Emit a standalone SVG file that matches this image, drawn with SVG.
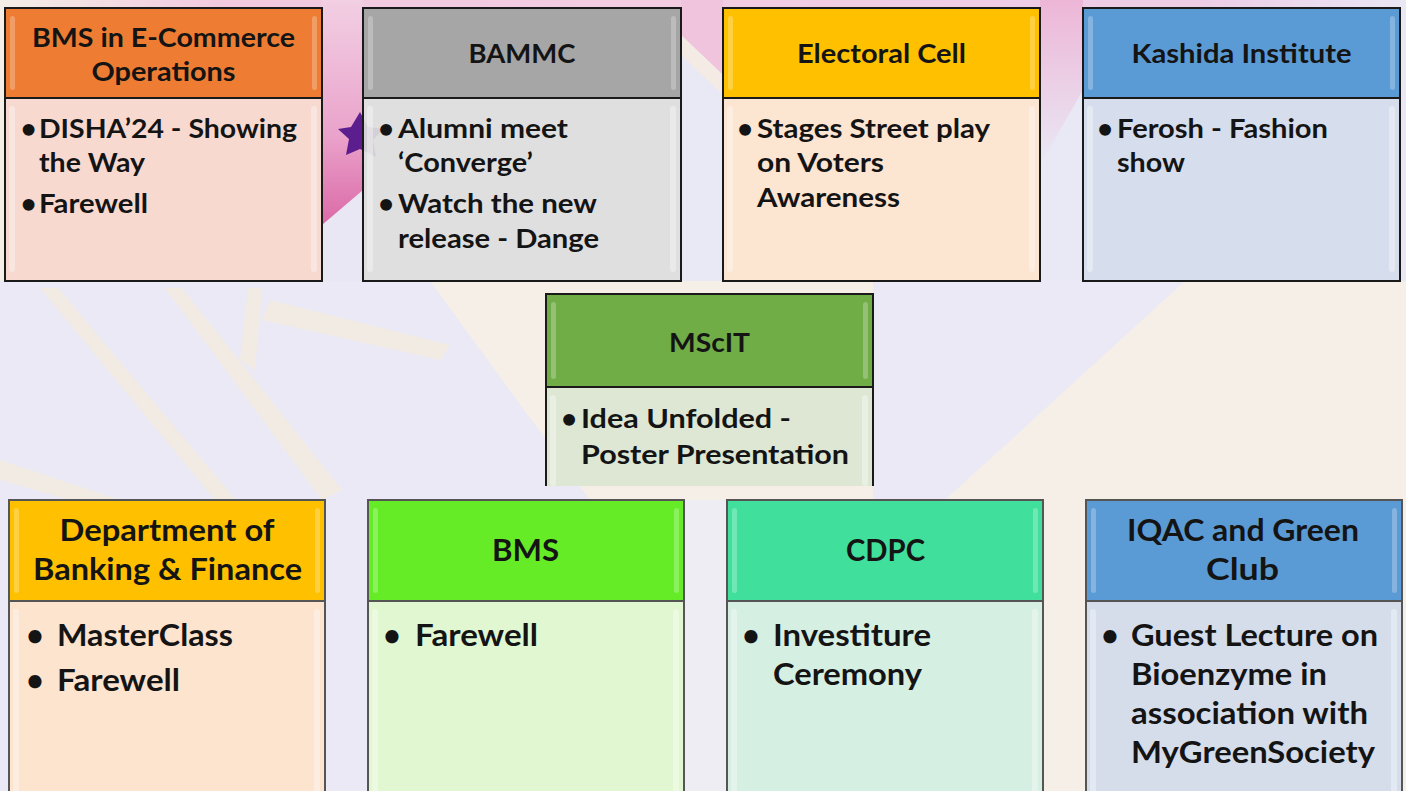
<svg xmlns="http://www.w3.org/2000/svg" width="1406" height="791" viewBox="0 0 1406 791">
<style>
text{font-family:Lato,"Liberation Sans",sans-serif;font-weight:700;fill:#141414}
.t{font-size:27px}
.b{font-size:30px}
.h{text-anchor:middle}
.bl{text-anchor:middle}
.frame{fill:none;stroke:#1a1a1a;stroke-width:2}
.frame2{fill:none;stroke:#555;stroke-width:2}
.hl{fill:#fff;opacity:.25}
.hb{fill:#fff;opacity:.35}
</style>
<defs>
<linearGradient id="pinkGap" x1="0" y1="0" x2="0" y2="1">
<stop offset="0" stop-color="#F2CFE3"/>
<stop offset="0.6" stop-color="#EAA3CB"/>
<stop offset="1" stop-color="#DB69A7"/>
</linearGradient>
<linearGradient id="pinkTop" x1="0" y1="0" x2="1" y2="0">
<stop offset="0" stop-color="#F4EEE6"/>
<stop offset="0.16" stop-color="#F2C9DF"/>
<stop offset="0.5" stop-color="#F2CDE2"/>
<stop offset="0.85" stop-color="#EDCCE6"/>
<stop offset="1" stop-color="#E9E6F4"/>
</linearGradient>
<linearGradient id="pinkFade" x1="0" y1="0" x2="0" y2="1">
<stop offset="0" stop-color="#EDB6D6"/>
<stop offset="1" stop-color="#E9E8F5"/>
</linearGradient>
</defs>

<!-- background -->
<g id="background">
<rect width="1406" height="791" fill="#F6EFE7"/>
<polygon points="0,281 430,281 590,500 590,791 0,791" fill="#EAE9F5"/>
<polygon points="590,500 760,500 760,791 590,791" fill="#EEEDF4"/>
<polygon points="873,281 1185,281 945,500 873,500" fill="#EAE9F5"/>
<polygon points="40,288 58,288 236,500 215,500" fill="#F2EBE3"/>
<polygon points="165,288 182,288 342,490 322,500" fill="#F2EBE3"/>
<polygon points="0,460 150,510 140,520 0,480" fill="#F2EBE3"/>
<polygon points="248,288 262,288 255,370 240,360" fill="#F2EBE3"/>
<polygon points="270,300 450,345 440,360 262,320" fill="#F2EBE3"/>
<rect x="0" y="0" width="1406" height="9" fill="url(#pinkTop)"/>
<rect x="1400" y="0" width="6" height="281" fill="#E9E7F4"/>
<rect x="322" y="0" width="41" height="281" fill="#E9E7F3"/>
<polygon points="322,0 363,0 363,190 322,225" fill="url(#pinkGap)"/>
<rect x="681" y="0" width="42" height="281" fill="#E9E8F5"/>
<polygon points="681,0 723,0 723,75 681,35" fill="#F0C4DD"/>
<polygon points="681,35 723,75 723,95 681,55" fill="#F4ECE4"/>
<rect x="1040" y="0" width="43" height="281" fill="#E9E8F5"/>
<polygon points="1040,0 1083,0 1083,90 1040,165" fill="url(#pinkFade)"/>
<polygon points="338,129 351,127 360,112 368,127 384,129 373,140 376,157 360,149 346,155 349,139" fill="#5C1E8E"/>
</g>

<g id="connectors"></g>

<!-- top row -->
<g id="node-bms-ecommerce">
<rect x="5" y="8" width="317" height="90" fill="#EE7D33"/>
<rect x="5" y="98" width="317" height="183" fill="#F8D9CF"/>
<rect class="hl" x="10" y="16" width="5" height="74" rx="2.5"/>
<rect class="hl" x="312" y="16" width="5" height="74" rx="2.5"/>
<rect class="hb" x="9" y="106" width="6" height="166" rx="3"/>
<rect class="hb" x="311" y="106" width="6" height="166" rx="3"/>
<rect class="frame" x="5" y="8" width="317" height="273"/>
<line class="frame" x1="5" y1="98" x2="322" y2="98"/>
<text class="t h" x="163.5" y="47" textLength="263" lengthAdjust="spacingAndGlyphs">BMS in E-Commerce</text>
<text class="t h" x="163.5" y="81" textLength="144" lengthAdjust="spacingAndGlyphs">Operations</text>
<text class="t bl" x="28.5" y="138">•</text>
<text class="t" x="39" y="138" textLength="258" lengthAdjust="spacingAndGlyphs">DISHA’24 - Showing</text>
<text class="t" x="39" y="172" textLength="106" lengthAdjust="spacingAndGlyphs">the Way</text>
<text class="t bl" x="28.5" y="213">•</text>
<text class="t" x="39" y="213" textLength="109" lengthAdjust="spacingAndGlyphs">Farewell</text>
</g>

<g id="node-bammc">
<rect x="363" y="8" width="318" height="90" fill="#A6A6A6"/>
<rect x="363" y="98" width="318" height="183" fill="#DEDEDE" fill-opacity="0.93"/>
<rect class="hl" x="368" y="16" width="5" height="74" rx="2.5"/>
<rect class="hl" x="671" y="16" width="5" height="74" rx="2.5"/>
<rect class="hb" x="367" y="106" width="6" height="166" rx="3"/>
<rect class="hb" x="670" y="106" width="6" height="166" rx="3"/>
<rect class="frame" x="363" y="8" width="318" height="273"/>
<line class="frame" x1="363" y1="98" x2="681" y2="98"/>
<text class="t h" x="522" y="63" textLength="107" lengthAdjust="spacingAndGlyphs">BAMMC</text>
<text class="t bl" x="386" y="138">•</text>
<text class="t" x="398" y="138" textLength="170" lengthAdjust="spacingAndGlyphs">Alumni meet</text>
<text class="t" x="398" y="172" textLength="135" lengthAdjust="spacingAndGlyphs">‘Converge’</text>
<text class="t bl" x="386" y="213">•</text>
<text class="t" x="398" y="213" textLength="199" lengthAdjust="spacingAndGlyphs">Watch the new</text>
<text class="t" x="398" y="248" textLength="201" lengthAdjust="spacingAndGlyphs">release - Dange</text>
</g>

<g id="node-electoral-cell">
<rect x="723" y="8" width="317" height="90" fill="#FFC000"/>
<rect x="723" y="98" width="317" height="183" fill="#FCE5D1"/>
<rect class="hl" x="728" y="16" width="5" height="74" rx="2.5"/>
<rect class="hl" x="1030" y="16" width="5" height="74" rx="2.5"/>
<rect class="hb" x="727" y="106" width="6" height="166" rx="3"/>
<rect class="hb" x="1029" y="106" width="6" height="166" rx="3"/>
<rect class="frame" x="723" y="8" width="317" height="273"/>
<line class="frame" x1="723" y1="98" x2="1040" y2="98"/>
<text class="t h" x="881.5" y="63" textLength="169" lengthAdjust="spacingAndGlyphs">Electoral Cell</text>
<text class="t bl" x="745" y="138">•</text>
<text class="t" x="757" y="138" textLength="233" lengthAdjust="spacingAndGlyphs">Stages Street play</text>
<text class="t" x="757" y="172" textLength="127" lengthAdjust="spacingAndGlyphs">on Voters</text>
<text class="t" x="757" y="207" textLength="143" lengthAdjust="spacingAndGlyphs">Awareness</text>
</g>

<g id="node-kashida">
<rect x="1083" y="8" width="317" height="90" fill="#5B9BD5"/>
<rect x="1083" y="98" width="317" height="183" fill="#D6DDEC"/>
<rect class="hl" x="1088" y="16" width="5" height="74" rx="2.5"/>
<rect class="hl" x="1390" y="16" width="5" height="74" rx="2.5"/>
<rect class="hb" x="1087" y="106" width="6" height="166" rx="3"/>
<rect class="hb" x="1389" y="106" width="6" height="166" rx="3"/>
<rect class="frame" x="1083" y="8" width="317" height="273"/>
<line class="frame" x1="1083" y1="98" x2="1400" y2="98"/>
<text class="t h" x="1241.5" y="63" textLength="220" lengthAdjust="spacingAndGlyphs">Kashida Institute</text>
<text class="t bl" x="1105" y="138">•</text>
<text class="t" x="1117" y="138" textLength="211" lengthAdjust="spacingAndGlyphs">Ferosh - Fashion</text>
<text class="t" x="1117" y="172" textLength="68" lengthAdjust="spacingAndGlyphs">show</text>
</g>

<!-- middle -->
<g id="node-mscit">
<rect x="546" y="294" width="327" height="93" fill="#70AD47"/>
<rect x="546" y="387" width="327" height="99" fill="#DDE7D3"/>
<rect class="hl" x="551" y="302" width="5" height="77" rx="2.5"/>
<rect class="hl" x="863" y="302" width="5" height="77" rx="2.5"/>
<rect class="hb" x="550" y="395" width="6" height="91" rx="3"/>
<rect class="hb" x="862" y="395" width="6" height="91" rx="3"/>
<path class="frame" d="M546,486 V294 H873 V486"/>
<line class="frame" x1="546" y1="387" x2="873" y2="387"/>
<text class="t h" x="709.5" y="352" textLength="81" lengthAdjust="spacingAndGlyphs">MScIT</text>
<text class="t bl" x="569" y="428">•</text>
<text class="t" x="581" y="428" textLength="210" lengthAdjust="spacingAndGlyphs">Idea Unfolded -</text>
<text class="t" x="581" y="464" textLength="268" lengthAdjust="spacingAndGlyphs">Poster Presentation</text>
</g>

<!-- bottom row -->
<g id="node-banking-finance">
<rect x="9" y="500" width="316" height="101" fill="#FFC000"/>
<rect x="9" y="601" width="316" height="195" fill="#FCE4CF"/>
<rect class="hl" x="14" y="508" width="5" height="85" rx="2.5"/>
<rect class="hl" x="315" y="508" width="5" height="85" rx="2.5"/>
<rect class="hb" x="13" y="609" width="6" height="190" rx="3"/>
<rect class="hb" x="314" y="609" width="6" height="190" rx="3"/>
<rect class="frame2" x="9" y="500" width="316" height="300"/>
<line class="frame2" x1="9" y1="601" x2="325" y2="601"/>
<text class="b h" x="167" y="541" textLength="215" lengthAdjust="spacingAndGlyphs">Department of</text>
<text class="b h" x="167.5" y="580" textLength="269" lengthAdjust="spacingAndGlyphs">Banking &amp; Finance</text>
<text class="b bl" x="35" y="646">•</text>
<text class="b" x="57" y="646" textLength="176" lengthAdjust="spacingAndGlyphs">MasterClass</text>
<text class="b bl" x="35" y="691">•</text>
<text class="b" x="57" y="691" textLength="123" lengthAdjust="spacingAndGlyphs">Farewell</text>
</g>

<g id="node-bms">
<rect x="368" y="500" width="316" height="101" fill="#65EC26"/>
<rect x="368" y="601" width="316" height="195" fill="#E1F7D2"/>
<rect class="hl" x="373" y="508" width="5" height="85" rx="2.5"/>
<rect class="hl" x="674" y="508" width="5" height="85" rx="2.5"/>
<rect class="hb" x="372" y="609" width="6" height="190" rx="3"/>
<rect class="hb" x="673" y="609" width="6" height="190" rx="3"/>
<rect class="frame2" x="368" y="500" width="316" height="300"/>
<line class="frame2" x1="368" y1="601" x2="684" y2="601"/>
<text class="b h" x="525.5" y="561" textLength="67" lengthAdjust="spacingAndGlyphs">BMS</text>
<text class="b bl" x="392" y="646">•</text>
<text class="b" x="415" y="646" textLength="123" lengthAdjust="spacingAndGlyphs">Farewell</text>
</g>

<g id="node-cdpc">
<rect x="727" y="500" width="316" height="101" fill="#40E09C"/>
<rect x="727" y="601" width="316" height="195" fill="#D6EFE3"/>
<rect class="hl" x="732" y="508" width="5" height="85" rx="2.5"/>
<rect class="hl" x="1033" y="508" width="5" height="85" rx="2.5"/>
<rect class="hb" x="731" y="609" width="6" height="190" rx="3"/>
<rect class="hb" x="1032" y="609" width="6" height="190" rx="3"/>
<rect class="frame2" x="727" y="500" width="316" height="300"/>
<line class="frame2" x1="727" y1="601" x2="1043" y2="601"/>
<text class="b h" x="885.5" y="561" textLength="79" lengthAdjust="spacingAndGlyphs">CDPC</text>
<text class="b bl" x="751" y="646">•</text>
<text class="b" x="773" y="646" textLength="158" lengthAdjust="spacingAndGlyphs">Investiture</text>
<text class="b" x="773" y="685" textLength="149" lengthAdjust="spacingAndGlyphs">Ceremony</text>
</g>

<g id="node-iqac-green-club">
<rect x="1086" y="500" width="316" height="101" fill="#5B9BD5"/>
<rect x="1086" y="601" width="316" height="195" fill="#D5DDEB"/>
<rect class="hl" x="1091" y="508" width="5" height="85" rx="2.5"/>
<rect class="hl" x="1392" y="508" width="5" height="85" rx="2.5"/>
<rect class="hb" x="1090" y="609" width="6" height="190" rx="3"/>
<rect class="hb" x="1391" y="609" width="6" height="190" rx="3"/>
<rect class="frame2" x="1086" y="500" width="316" height="300"/>
<line class="frame2" x1="1086" y1="601" x2="1402" y2="601"/>
<text class="b h" x="1243" y="541" textLength="232" lengthAdjust="spacingAndGlyphs">IQAC and Green</text>
<text class="b h" x="1242.5" y="580" textLength="73" lengthAdjust="spacingAndGlyphs">Club</text>
<text class="b bl" x="1110" y="646">•</text>
<text class="b" x="1131" y="646" textLength="247" lengthAdjust="spacingAndGlyphs">Guest Lecture on</text>
<text class="b" x="1131" y="685" textLength="196" lengthAdjust="spacingAndGlyphs">Bioenzyme in</text>
<text class="b" x="1131" y="724" textLength="237" lengthAdjust="spacingAndGlyphs">association with</text>
<text class="b" x="1131" y="763" textLength="244" lengthAdjust="spacingAndGlyphs">MyGreenSociety</text>
</g>
</svg>
